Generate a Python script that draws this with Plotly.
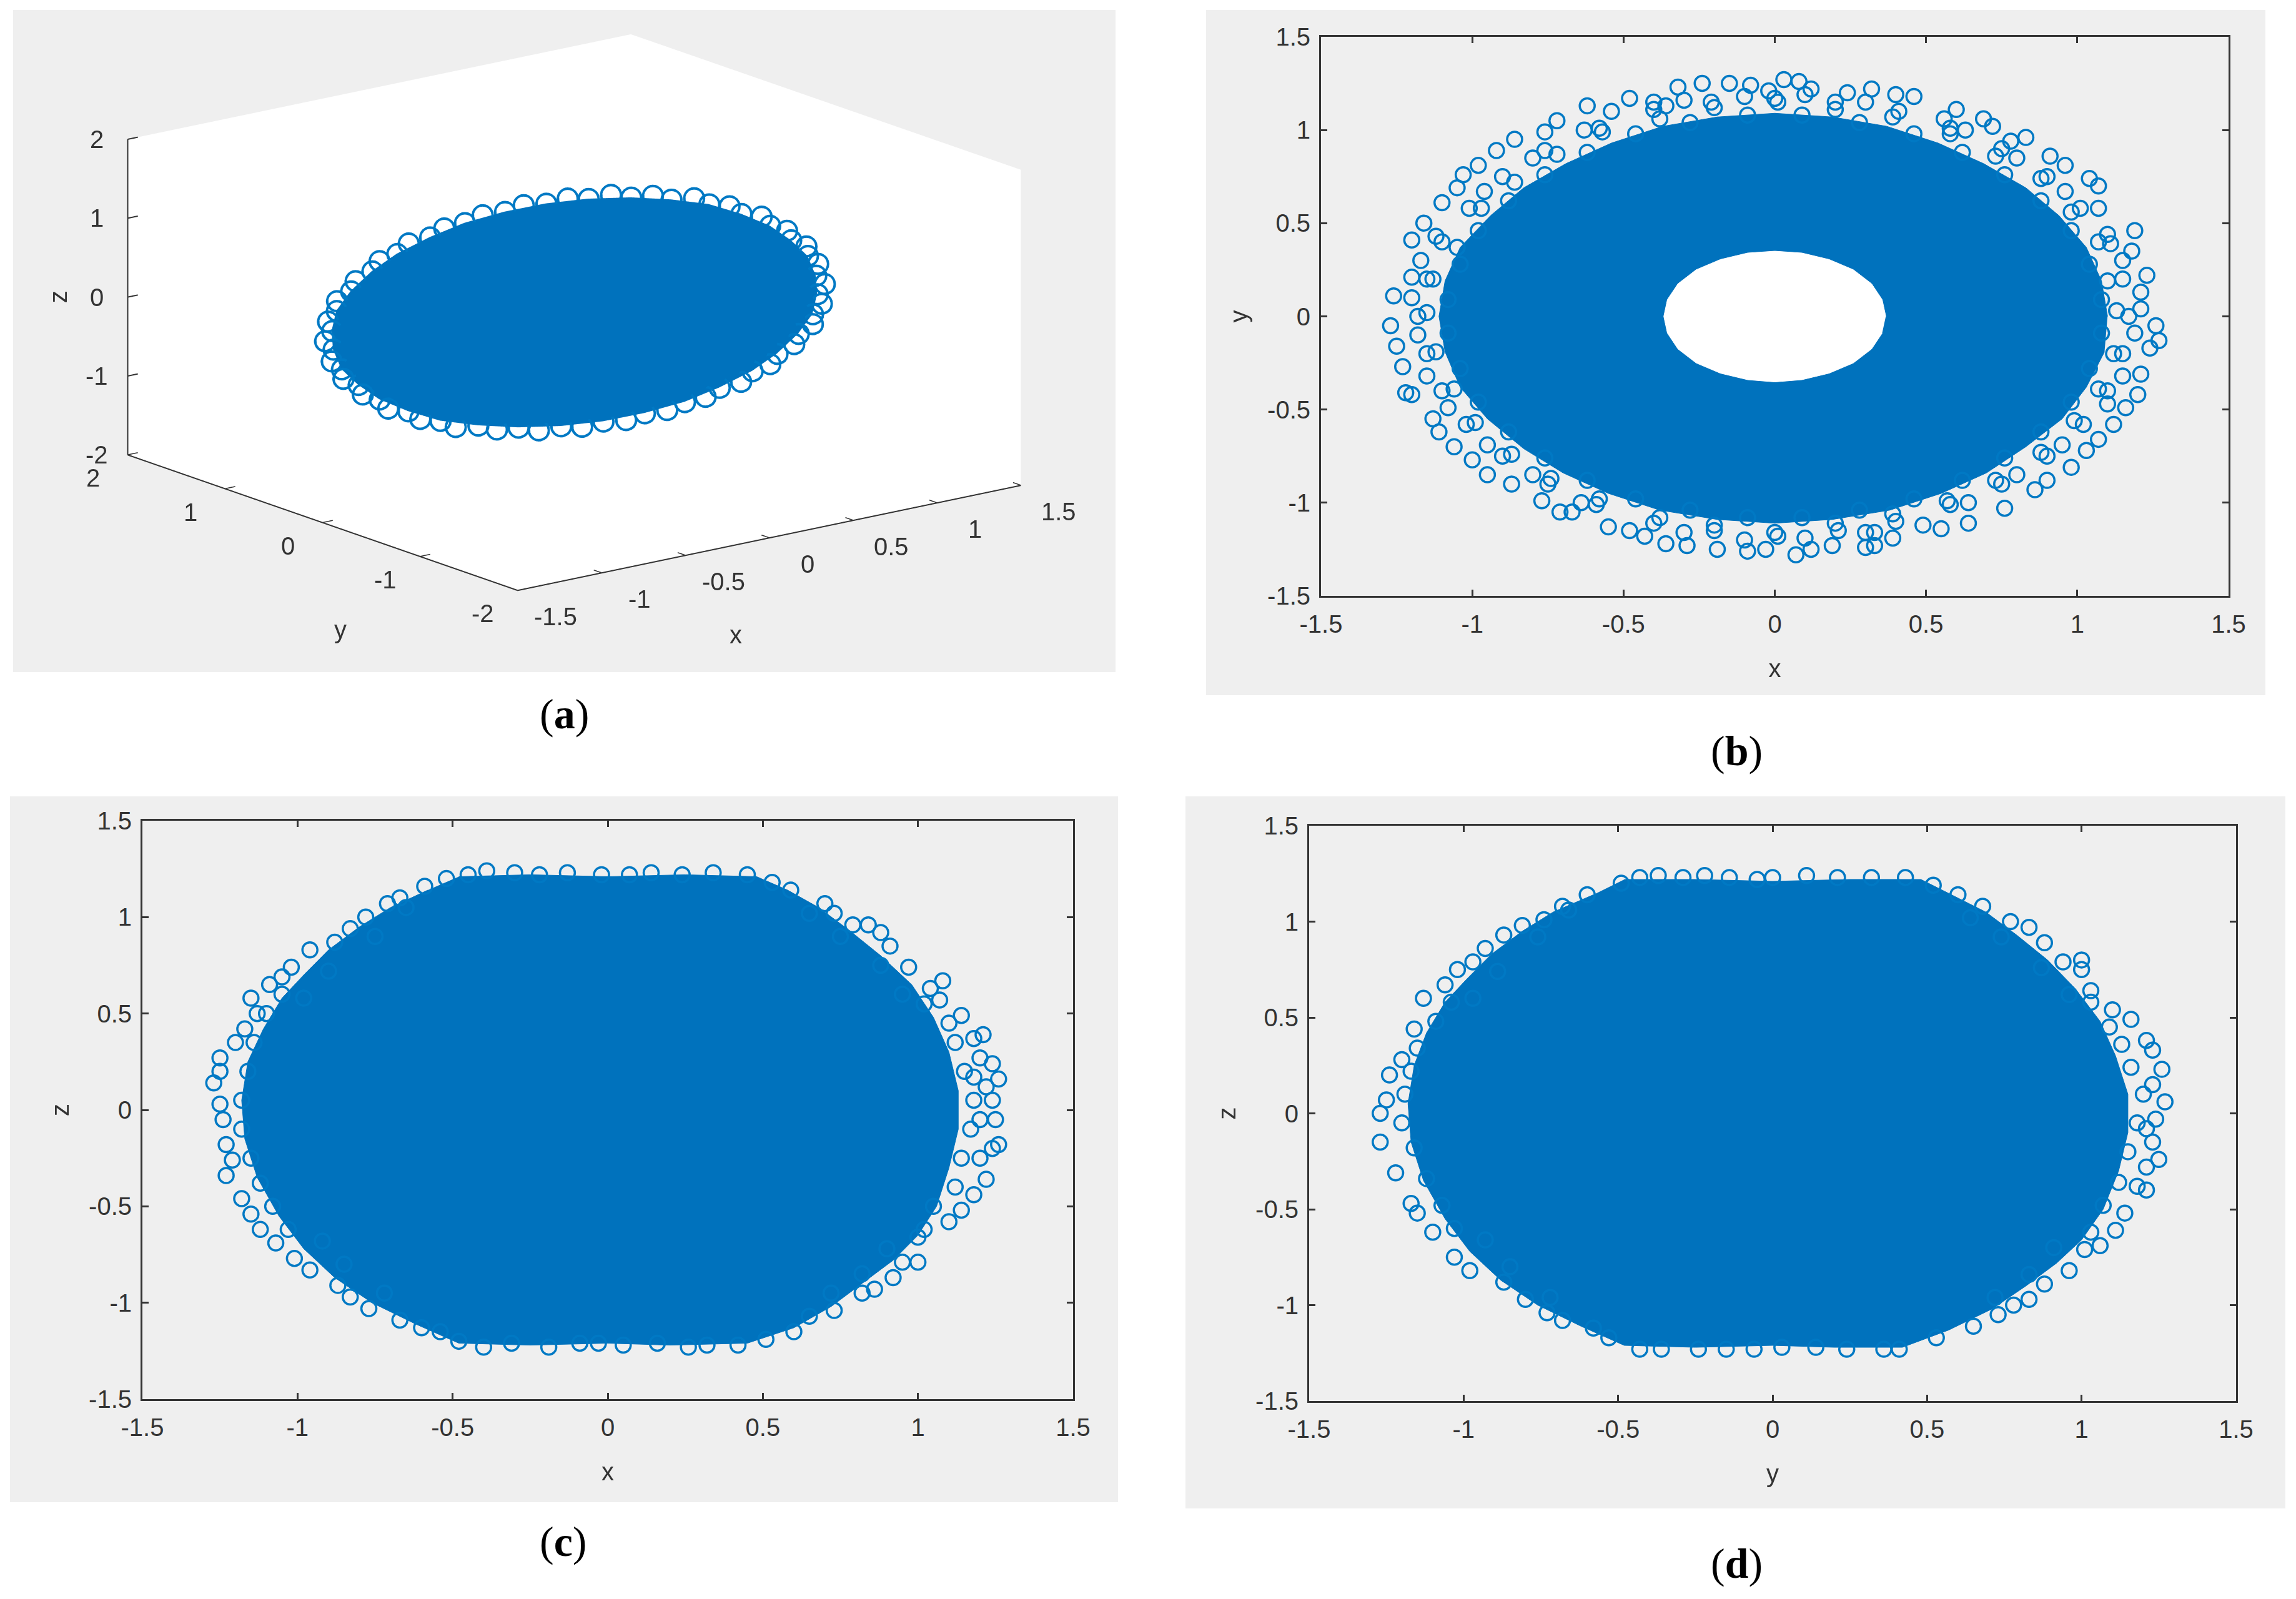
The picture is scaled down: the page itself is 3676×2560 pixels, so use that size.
import plotly.graph_objects as go

W = 3676
H = 2560
OFF = 8  # the page puts the figure 8px in from the corner
blue = "#0072BD"
ring = "#0079C4"
ink = "#333333"
panel = "#EFEFEF"

tick_vals = [-1.5, -1, -0.5, 0, 0.5, 1, 1.5]
tick_text = ["-1.5", "-1", "-0.5", "0", "0.5", "1", "1.5"]
tick_vals_yz = [-2, -1, 0, 1, 2]
tick_text_yz = ["-2", "-1", "0", "1", "2"]

# panel (a) x/y/z, points on the edge of the cloud
a_x = [1.10, 1.17, 1.20, 1.20, 1.16, 1.09, .98, .85, .68, .50, .30, .09, -.12, -.32, -.52, -.70, -.86, -1.00,
       -1.10, -1.17, -1.20, -1.20, -1.16, -1.09, -.98, -.85, -.68, -.50, -.30, -.09, .12, .32, .52, .70, .86, 1.00,
       1.11, 1.16, 1.18, 1.15, 1.10, 1.01, .90, .75, .58, .39, .19, -.01, -.22, -.41, -.60, -.76, -.91, -1.03,
       -1.11, -1.16, -1.18, -1.15, -1.10, -1.01, -.90, -.75, -.58, -.39, -.19, .01, .22, .41, .60, .76, .91, 1.03]
a_y = [-.64, -.55, -.43, -.31, -.18, -.04, .10, .24, .37, .49, .59, .68, .74, .79, .81, .80, .77, .72,
       .64, .55, .43, .31, .18, .04, -.10, -.24, -.37, -.49, -.59, -.68, -.74, -.79, -.81, -.80, -.77, -.72,
       -.58, -.48, -.36, -.24, -.11, .03, .17, .30, .42, .53, .62, .70, .75, .78, .79, .77, .73, .67,
       .58, .48, .36, .24, .11, -.03, -.17, -.30, -.42, -.53, -.62, -.70, -.75, -.78, -.79, -.77, -.73, -.67]
a_z = [-.10, .08, .27, .44, .60, .75, .87, .97, 1.02, 1.06, 1.06, 1.03, .97, .87, .76, .62, .45, .28,
       .10, -.08, -.27, -.44, -.60, -.75, -.87, -.97, -1.02, -1.06, -1.06, -1.03, -.97, -.87, -.76, -.62, -.45, -.28,
       -.01, .16, .35, .51, .66, .79, .90, .97, 1.02, 1.04, 1.03, .98, .91, .80, .67, .53, .36, .19,
       .01, -.16, -.35, -.51, -.66, -.79, -.90, -.97, -1.02, -1.04, -1.03, -.98, -.91, -.80, -.67, -.53, -.36, -.19]
a_depth_x = [.72, -.72]
a_depth_y = [.93, -.93]
a_depth_z = [-.35, .35]

# panel (b) x/y
b_x = [.03, .08, -.32, -.24, -.15, -.08, -.02, .12, .24, .32, .40, .46, .60, .56, .69, .72, .83, .78, .91, .96,
       1.04, 1.07, 1.07, 1.19, 1.18, 1.23, 1.21, 1.21, 1.26, 1.27, 1.24, 1.21, 1.20, 1.16, 1.12, 1.07, 1.03, .98, .90, .86,
       .76, .64, .55, .49, .39, .33, .30, .33, .19, .12, .07, -.03, -.09, -.19, -.29, -.36, -.43, -.48, -.55, -.67,
       -.71, -.77, -.87, -.95, -1.00, -1.06, -1.11, -1.13, -1.20, -1.22, -1.23, -1.25, -1.27, -1.26, -1.20, -1.20, -1.16, -1.10, -1.05, -1.03,
       -.98, -.92, -.86, -.76, -.72, -.62, -.54, -.48, -.40, -.36,
       1.13, 1.10, 1.07, .98, .88, .73, .58, .39, .20, .01, -.20, -.38, -.57, -.72, -.86, -.97, -1.05, -1.13,
       -1.15, -1.12, -1.06, -.99, -.87, -.74, -.58, -.38, -.20, .00, .20, .39, .57, .73, .88, .99, 1.07, 1.12,
       1.15, 1.10, .96, .80, .63, .30, .10, -.10, -.30, -.63, -.80, -.96, -1.12, -1.17, -1.20,
       -1.18, -1.15, -1.08, -.95, -.80, -.64, -.30, -.10, .10, .30, .64, .80, .95, 1.10, 1.15, 1.19,
       1.08, 1.04, .98, .88, .76, .62, .46, .28, .09, -.09, -.28, -.46, -.62, -.76, -.88, -.98, -1.04, -1.08,
       -1.08, -1.04, -.98, -.88, -.76, -.62, -.46, -.28, -.09, .09, .28, .46, .62, .76, .88, .98, 1.04, 1.08,
       1.17, 1.15, 1.11, 1.01, .90, .75, .58, .41, .20, .00, -.21, -.40, -.58, -.76, -.90, -1.01, -1.10, -1.15,
       -1.18, -1.15, -1.10, -1.02, -.90, -.75, -.59, -.40, -.20, .01, .21, .40, .58, .75, .90, 1.02, 1.10, 1.15]
b_y = [1.27, 1.26, 1.23, 1.25, 1.25, 1.24, 1.21, 1.22, 1.20, 1.22, 1.19, 1.18, 1.11, 1.06, 1.06, 1.02, .96, .94, .86, .81,
       .74, .70, .58, .46, .35, .22, .13, .04, -.05, -.13, -.17, -.31, -.42, -.49, -.58, -.66, -.72, -.81, -.88, -.93,
       -1.03, -1.11, -1.14, -1.12, -1.19, -1.23, -1.24, -1.16, -1.23, -1.25, -1.28, -1.25, -1.26, -1.25, -1.23, -1.22, -1.18, -1.15, -1.13, -1.05,
       -1.05, -.99, -.90, -.85, -.77, -.70, -.62, -.55, -.42, -.41, -.27, -.16, -.05, .11, .21, .41, .50, .61, .69, .76,
       .81, .89, .95, .99, 1.05, 1.13, 1.10, 1.17, 1.15, 1.13,
       .03, .19, .40, .56, .74, .86, .98, 1.07, 1.11, 1.15, 1.12, 1.06, .99, .87, .72, .58, .37, .20,
       .02, -.19, -.39, -.57, -.74, -.87, -.98, -1.08, -1.12, -1.16, -1.11, -1.06, -.99, -.88, -.73, -.56, -.39, -.20,
       .30, .44, .67, .85, 1.00, 1.15, 1.19, 1.18, 1.16, 1.00, .85, .67, .43, .30, .10,
       -.10, -.32, -.49, -.69, -.85, -1.00, -1.16, -1.20, -1.19, -1.16, -1.00, -.85, -.69, -.47, -.32, -.09,
       .09, .28, .46, .62, .76, .88, .98, 1.04, 1.08, 1.08, 1.04, .98, .88, .76, .62, .46, .28, .09,
       -.09, -.28, -.46, -.62, -.76, -.88, -.98, -1.04, -1.08, -1.08, -1.04, -.98, -.88, -.76, -.62, -.46, -.28, -.09,
       .00, .20, .39, .58, .75, .90, 1.01, 1.10, 1.15, 1.17, 1.15, 1.11, 1.01, .89, .75, .58, .40, .20,
       .00, -.20, -.40, -.58, -.75, -.90, -1.01, -1.11, -1.15, -1.18, -1.15, -1.10, -1.01, -.90, -.75, -.58, -.40, -.20]
b_core_x = [1.10, 1.08, 1.03, .94, .83, .69, .54, .37, .19, 0, -.19, -.37, -.54, -.69, -.83, -.94, -1.04, -1.09,
            -1.11, -1.09, -1.04, -.95, -.83, -.70, -.55, -.38, -.19, 0, .19, .38, .55, .70, .83, .95, 1.03, 1.09]
b_core_y = [0, .19, .37, .54, .69, .82, .93, 1.02, 1.07, 1.09, 1.07, 1.02, .93, .82, .69, .54, .37, .19,
            0, -.19, -.38, -.55, -.71, -.84, -.95, -1.04, -1.09, -1.11, -1.09, -1.04, -.95, -.84, -.70, -.55, -.38, -.19]
b_hole_x = [.367, .355, .32, .26, .18, .09, 0, -.09, -.18, -.26, -.32, -.355, -.367, -.355, -.32, -.26, -.18, -.09, 0, .09, .18, .26, .32, .355]
b_hole_y = [0, .09, .175, .25, .305, .34, .35, .34, .305, .25, .175, .09, 0, -.09, -.175, -.25, -.305, -.34, -.352, -.34, -.305, -.25, -.175, -.09]

# panel (c) x/z
c_x = [-1.27, -1.25, -1.25, -1.20, -1.17, -1.15, -1.13, -1.09, -1.05, -1.02, -.96, -.88, -.83, -.78, -.71, -.67, -.59, -.52, -.45, -.39,
       -.30, -.22, -.13, -.02, .07, .14, .24, .34, .45, .53, .59, .70, .73, .79, .84, .88, .91, .97, 1.08, 1.04,
       1.07, 1.14, 1.21, 1.18, 1.20, 1.24, 1.26, 1.18, 1.24, 1.25, 1.26, 1.24, 1.22, 1.18, 1.14, 1.10, 1.00, 1.00, .95, .92,
       .86, .82, .73, .65, .60, .51, .42, .32, .26, .16, .05, -.03, -.09, -.19, -.31, -.40, -.48, -.54, -.60, -.67,
       -.77, -.83, -.87, -.96, -1.01, -1.07, -1.12, -1.15, -1.18, -1.23, -1.21, -1.23, -1.24, -1.25,
       -1.18, -1.16, -1.14, -1.10, -1.05, -1.18, -1.15, -1.12, -1.08, -1.03, -.98, -.90, -.92, -.85, -.75, -.65, -.72,
       1.18, 1.15, 1.12, 1.10, 1.02, 1.17, 1.14, 1.12, 1.05, 1.02, .95, .88, .90, .82, .75, .65, .72, 1.22, 1.20, 1.20]
c_z = [.14, .27, .20, .35, .42, .58, .50, .65, .69, .74, .83, .87, .94, 1.00, 1.07, 1.10, 1.16, 1.20, 1.22, 1.24,
       1.23, 1.22, 1.23, 1.22, 1.22, 1.23, 1.22, 1.23, 1.22, 1.18, 1.14, 1.07, 1.02, .96, .96, .92, .85, .74, .67, .63,
       .57, .49, .39, .37, .27, .24, .16, .17, .05, -.05, -.18, -.20, -.36, -.44, -.52, -.58, -.66, -.79, -.79, -.87,
       -.93, -.95, -1.04, -1.07, -1.15, -1.19, -1.22, -1.22, -1.23, -1.21, -1.22, -1.21, -1.21, -1.23, -1.21, -1.23, -1.20, -1.15, -1.13, -1.09,
       -1.03, -.97, -.91, -.83, -.77, -.69, -.62, -.54, -.46, -.34, -.26, -.18, -.05, .03,
       .05, .20, .35, .50, .60, -.10, -.25, -.38, -.50, -.62, .58, .72, -.68, -.80, .90, 1.05, -.95,
       .05, .20, .35, .45, .55, -.10, -.25, -.40, -.50, -.62, .60, .75, -.72, -.85, .90, 1.02, -.95, .12, -.05, -.25]
c_core_x = [-.48, -.25, 0, .25, .48, .58, .68, .78, .88, .98, 1.05, 1.10, 1.13, 1.13, 1.10, 1.06, 1.00, .92, .82, .72, .60,
            .45, .20, 0, -.25, -.48, -.62, -.76, -.88, -.98, -1.06, -1.13, -1.17, -1.18, -1.16, -1.11, -1.05, -.98, -.90, -.80, -.70, -.58]
c_core_z = [1.21, 1.22, 1.21, 1.22, 1.21, 1.14, 1.05, .93, .80, .65, .48, .30, .10, -.10, -.30, -.50, -.65, -.78, -.90, -1.02, -1.13,
            -1.21, -1.22, -1.21, -1.22, -1.21, -1.11, -1.00, -.87, -.72, -.55, -.35, -.15, .05, .25, .42, .58, .70, .83, .95, 1.05, 1.14]

# panel (d) y/z
d_x = [-1.27, -1.27, -1.25, -1.24, -1.20, -1.16, -1.13, -1.06, -1.02, -.97, -.93, -.87, -.81, -.74, -.68, -.60, -.49, -.43, -.37,
       -.29, -.22, -.14, -.05, .00, .11, .21, .32, .43, .52, .60, .68, .77, .83, .88, .94, 1.00, 1.00, 1.03, 1.10, 1.16,
       1.21, 1.23, 1.26, 1.27, 1.24, 1.23, 1.25, 1.18, 1.21, 1.14, 1.11, 1.06, 1.01, .96, .88, .83, .78, .73, .65, .53,
       .41, .36, .24, .14, .03, -.06, -.15, -.24, -.36, -.43, -.53, -.58, -.68, -.73, -.80, -.87, -.98, -1.03, -1.10, -1.15, -1.17, -1.22,
       -1.19, -1.17, -1.15, -1.09, -1.04, -1.20, -1.16, -1.12, -1.07, -1.03, -.97, -.89, -.93, -.85, -.76, -.66, -.72,
       1.20, 1.16, 1.13, 1.09, 1.03, 1.18, 1.15, 1.12, 1.07, 1.03, .96, .87, .91, .83, .74, .64, .72, 1.23, 1.21, 1.21]
d_z = [-.15, .00, .07, .20, .28, .44, .60, .67, .75, .79, .86, .93, .98, 1.01, 1.08, 1.14, 1.20, 1.23, 1.24,
       1.23, 1.24, 1.23, 1.22, 1.23, 1.24, 1.23, 1.23, 1.23, 1.19, 1.14, 1.08, 1.00, .97, .89, .79, .80, .75, .64, .54, .49,
       .38, .33, .23, .06, -.03, -.15, -.24, -.38, -.40, -.52, -.61, -.69, -.71, -.82, -.89, -.97, -1.00, -1.05, -1.11, -1.17,
       -1.23, -1.23, -1.23, -1.22, -1.22, -1.23, -1.23, -1.23, -1.23, -1.23, -1.17, -1.12, -1.08, -1.04, -.97, -.88, -.82, -.75, -.62, -.52, -.47, -.31,
       .10, .22, .34, .48, .58, -.05, -.18, -.34, -.48, -.60, .60, .74, -.66, -.80, .92, 1.06, -.96,
       .10, .24, .36, .45, .58, -.05, -.20, -.36, -.48, -.62, .62, .76, -.70, -.84, .92, 1.02, -.96, .15, -.08, -.28]
d_core_x = [-.48, -.25, 0, .25, .48, .58, .69, .79, .89, .98, 1.06, 1.11, 1.15, 1.15, 1.12, 1.07, 1.00, .92, .82, .71, .57,
            .42, .20, 0, -.25, -.48, -.62, -.76, -.88, -.98, -1.06, -1.13, -1.17, -1.18, -1.16, -1.12, -1.06, -.99, -.91, -.81, -.71, -.58]
d_core_z = [1.22, 1.22, 1.21, 1.22, 1.22, 1.14, 1.05, .93, .80, .65, .48, .30, .10, -.10, -.30, -.50, -.66, -.78, -.90, -1.02, -1.13,
            -1.22, -1.22, -1.21, -1.22, -1.21, -1.11, -1.00, -.87, -.72, -.55, -.35, -.15, .05, .25, .42, .58, .70, .83, .95, 1.05, 1.14]

panels = [
    {"name": "b", "box": (1931, 3627, 16, 1113), "plot": (2115, 3568, 59, 954), "xt": "x", "yt": "y",
     "px": b_x, "py": b_y, "cx": b_core_x, "cy": b_core_y, "cap": (2780, 1202)},
    {"name": "c", "box": (16, 1790, 1275, 2405), "plot": (228, 1718, 1314, 2240), "xt": "x", "yt": "z",
     "px": c_x, "py": c_z, "cx": c_core_x, "cy": c_core_z, "cap": (902, 2468)},
    {"name": "d", "box": (1898, 3659, 1275, 2415), "plot": (2096, 3580, 1322, 2243), "xt": "y", "yt": "z",
     "px": d_x, "py": d_z, "cx": d_core_x, "cy": d_core_z, "cap": (2780, 2503)},
]

fig = go.Figure()
shapes = []
notes = []


def fx(px):
    return (px - OFF) / W


def fy(py):
    return 1 - (py - OFF) / H


def rect(x0, x1, y0, y1):
    shapes.append(dict(type="rect", xref="paper", yref="paper", x0=fx(x0), x1=fx(x1),
                       y0=fy(y1), y1=fy(y0), fillcolor=panel, line_width=0, layer="below"))


def caption(letter, x, y):
    notes.append(dict(text="(<b>" + letter + "</b>)", xref="paper", yref="paper", x=fx(x), y=fy(y),
                      showarrow=False, xanchor="center", yanchor="middle",
                      font=dict(family="Liberation Serif", size=68, color="black")))


rect(21, 1786, 16, 1076)
caption("a", 903, 1143)

layout_axes = {}
for i, p in enumerate(panels):
    n = str(i + 1) if i else ""
    rect(*p["box"])
    caption(p["name"], *p["cap"])
    xa = "x" + n
    ya = "y" + n
    fig.add_trace(go.Scatter(x=p["cx"], y=p["cy"], mode="lines", fill="toself", fillcolor=blue,
                             line=dict(color=blue, width=1), xaxis=xa, yaxis=ya, showlegend=False))
    if p["name"] == "b":
        fig.add_trace(go.Scatter(x=b_hole_x, y=b_hole_y, mode="lines", fill="toself", fillcolor="white",
                                 line=dict(color="white", width=1), xaxis=xa, yaxis=ya, showlegend=False))
    fig.add_trace(go.Scatter(x=p["px"], y=p["py"], mode="markers", xaxis=xa, yaxis=ya, showlegend=False,
                             marker=dict(symbol="circle-open", size=24, color=ring, line=dict(width=3.5, color=ring))))
    x0, x1, y0, y1 = p["plot"]
    common = dict(range=[-1.5, 1.5], tickmode="array", tickvals=tick_vals, ticktext=tick_text, ticks="inside",
                  ticklen=10, tickwidth=3, tickcolor=ink, linecolor=ink, linewidth=3, mirror="ticks",
                  showgrid=False, zeroline=False, automargin=False,
                  tickfont=dict(family="Liberation Sans", size=40, color=ink))
    layout_axes["xaxis" + n] = dict(common, domain=[fx(x0), fx(x1)], anchor=ya, ticklabelstandoff=8,
                                    title=dict(text=p["xt"], standoff=36, font=dict(family="Liberation Sans", size=40, color=ink)))
    layout_axes["yaxis" + n] = dict(common, domain=[fy(y1), fy(y0)], anchor=xa, ticklabelstandoff=6,
                                    title=dict(text=p["yt"], standoff=20, font=dict(family="Liberation Sans", size=40, color=ink)))

# panel (a) is a real 3D scene, axis lines and ticks drawn on the box edges
fig.add_trace(go.Mesh3d(x=a_x[36:] + a_depth_x, y=a_y[36:] + a_depth_y, z=a_z[36:] + a_depth_z, alphahull=0,
                        color=blue, flatshading=True, hoverinfo="skip", scene="scene",
                        lighting=dict(ambient=1, diffuse=0, specular=0, fresnel=0)))
fig.add_trace(go.Scatter3d(x=a_x, y=a_y, z=a_z, mode="markers", scene="scene", showlegend=False,
                           marker=dict(symbol="circle-open", size=20, color=ring, line=dict(width=2, color=ring))))

lx = [-1.5, -1.5, None, -1.5, -1.5, 1.5, None]
ly = [2, 2, None, 2, -2, -2, None]
lz = [-2, 2, None, -2, -2, -2, None]
for v in tick_vals:
    lx += [v, v, None]
    ly += [-2, -1.92, None]
    lz += [-2, -2, None]
for v in tick_vals_yz:
    lx += [-1.5, -1.44, None]
    ly += [v, v, None]
    lz += [-2, -2, None]
    lx += [-1.5, -1.44, None]
    ly += [2, 2, None]
    lz += [v, v, None]
fig.add_trace(go.Scatter3d(x=lx, y=ly, z=lz, mode="lines", scene="scene", showlegend=False, hoverinfo="skip",
                           line=dict(color=ink, width=4)))


def label3d(x, y, z, text, dx, dy, size=40):
    return dict(x=x, y=y, z=z, text=text, showarrow=False, xshift=dx, yshift=dy,
                font=dict(family="Liberation Sans", size=size, color=ink))


scene_notes = []
for v, t in zip(tick_vals, tick_text):
    scene_notes.append(label3d(v, -2, -2, t, 61, -42))
for v, t in zip(tick_vals_yz, tick_text_yz):
    scene_notes.append(label3d(-1.5, v, -2, t, -56, -37))
    scene_notes.append(label3d(-1.5, 2, v, t, -50, 0))
scene_notes.append(label3d(0, -2, -2, "x", -54, -155))
scene_notes.append(label3d(-1.5, 0, -2, "y", 28, -171))
scene_notes.append(dict(label3d(-1.5, 2, 0, "z", -112, 0), textangle=-90))

axis3d = dict(showbackground=True, backgroundcolor="white", showgrid=False, zeroline=False, showspikes=False,
              showline=False, ticks="", showticklabels=False, title=dict(text=""))
fig.update_layout(
    width=W, height=H, margin=dict(l=0, r=0, t=0, b=0), paper_bgcolor="white", plot_bgcolor="white",
    shapes=shapes, annotations=notes, showlegend=False,
    scene=dict(
        domain=dict(x=[fx(37), fx(1802)], y=[fy(1076), fy(16)]),
        bgcolor="rgba(0,0,0,0)",
        aspectmode="manual", aspectratio=dict(x=1.923, y=1.923, z=0.99),
        camera=dict(projection=dict(type="orthographic"), up=dict(x=0, y=0, z=1),
                    center=dict(x=0, y=0, z=-0.09), eye=dict(x=-1.15, y=-1.484, z=0.435)),
        xaxis=dict(axis3d, range=[-1.5, 1.5]),
        yaxis=dict(axis3d, range=[-2, 2]),
        zaxis=dict(axis3d, range=[-2, 2]),
        annotations=scene_notes,
    ),
    **layout_axes,
)

fig.write_html("out.html")
